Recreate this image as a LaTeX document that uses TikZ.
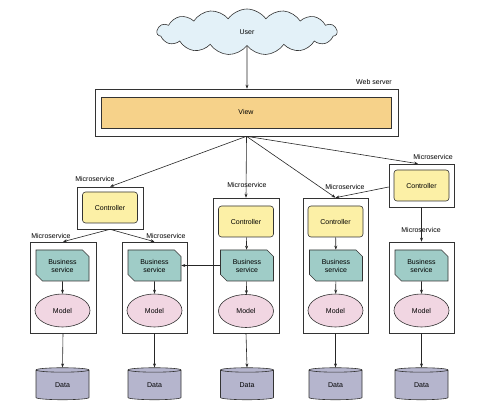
\documentclass[tikz,border=0pt]{standalone}
\usepackage{fontspec}
\setmainfont{Liberation Sans}
\usepackage{tikz}
\usetikzlibrary{arrows.meta}
\usetikzlibrary{shapes.geometric,shapes.misc,shapes.symbols}
\definecolor{cloudblue}{HTML}{E3F1F8}
\definecolor{vieworange}{HTML}{F6D28A}
\definecolor{ctrlyellow}{HTML}{FCF0A6}
\definecolor{busteal}{HTML}{9FCCC7}
\definecolor{modelpink}{HTML}{F1D6E2}
\definecolor{datagray}{HTML}{B5B5CD}
\tikzset{
	>={Stealth[length=4pt,width=3pt]},
	usercloud/.style={draw=black!80, fill=cloudblue, cloud, cloud puffs=15,
		cloud puff arc=110, aspect=4, minimum width=180pt, minimum height=46pt, inner sep=0pt},
	msbox/.style={draw=black!80, fill=white, inner sep=0pt},
	viewbox/.style={draw=black!80, fill=vieworange, minimum width=290pt, minimum height=31pt},
	ctrl/.style={draw=black!80, fill=ctrlyellow, rounded corners=3pt,
		minimum width=55pt, minimum height=31pt, inner sep=0pt},
	busi/.style={draw=black!80, fill=busteal, chamfered rectangle,
		chamfered rectangle corners={north east,south west}, chamfered rectangle xsep=3pt,
		minimum width=53pt, minimum height=31pt, inner sep=0pt, align=center},
	model/.style={draw=black!80, fill=modelpink, ellipse, minimum width=55pt,
		minimum height=33pt, inner sep=0pt},
	data/.style={draw=black!80, fill=datagray, cylinder, shape border rotate=90,
		aspect=0.3, minimum width=53pt, minimum height=32pt, inner sep=0pt},
	conn/.style={draw=black!85, ->},
}

\begin{document}
\begin{tikzpicture}[x=1pt, y=-1pt, line width=0.6pt, font=\fontsize{7pt}{8pt}\selectfont]
\useasboundingbox (0,0) rectangle (500,411);
	% user and web server
	\node[usercloud] (user) at (247,32) {User};
	\node[msbox, minimum width=303pt, minimum height=47pt] (ws) at (246.5,112.5) {};
	\node[viewbox] (view) at (246,112.5) {View};
	\node (wslab) at (374,82) {Web server};
	% microservice boxes
	\node[msbox, minimum width=66pt, minimum height=42pt] (msTL) at (110,208) {};
	\node[msbox, minimum width=65pt, minimum height=43pt] (msTR) at (421.5,185.5) {};
	\node[msbox, minimum width=66pt, minimum height=91pt] (msA) at (63,287.5) {};
	\node[msbox, minimum width=65pt, minimum height=91pt] (msB) at (154.5,287.5) {};
	\node[msbox, minimum width=66pt, minimum height=135pt] (msC) at (246,265.5) {};
	\node[msbox, minimum width=65pt, minimum height=135pt] (msD) at (335.5,265.5) {};
	\node[msbox, minimum width=65pt, minimum height=91pt] (msE) at (421.5,287.5) {};
	\node (labTL) at (95,179) {Microservice};
	\node (labTR) at (433,157) {Microservice};
	\node (labA) at (51,236) {Microservice};
	\node (labB) at (166,236) {Microservice};
	\node (labC) at (247,185) {Microservice};
	\node (labD) at (345,187) {Microservice};
	\node (labE) at (421,230) {Microservice};
	% controllers
	\node[ctrl] (ctrlTL) at (110,207.5) {Controller};
	\node[ctrl] (ctrlTR) at (421.5,185.5) {Controller};
	\node[ctrl] (ctrlC) at (246,221.5) {Controller};
	\node[ctrl] (ctrlD) at (335.5,221.5) {Controller};
	% business services
	\node[busi] (busA) at (62.5,265.5) {Business\\service};
	\node[busi] (busB) at (154.5,265.5) {Business\\service};
	\node[busi] (busC) at (247,265.5) {Business\\service};
	\node[busi] (busD) at (336,265.5) {Business\\service};
	\node[busi] (busE) at (421.5,265.5) {Business\\service};
	% models
	\node[model] (modelA) at (62.5,310.5) {Model};
	\node[model] (modelB) at (154.5,310.5) {Model};
	\node[model] (modelC) at (246,311) {Model};
	\node[model] (modelD) at (335.5,310.5) {Model};
	\node[model] (modelE) at (421.5,310.5) {Model};
	% data stores
	\node[data] (dataA) at (62.5,385) {Data};
	\node[data] (dataB) at (154.5,385) {Data};
	\node[data] (dataC) at (247,385) {Data};
	\node[data] (dataD) at (335.5,385) {Data};
	\node[data] (dataE) at (421.5,385) {Data};
	% connectors
	\draw[conn] (user) -- (ws.north -| user);
	\draw[conn] (ws.south) -- (msTL.north);
	\draw[conn] (ws.south) -- (msC.north);
	\draw[conn] (ws.south) -- (msD.north);
	\draw[conn] (ws.south) -- ([xshift=-3.5pt]msTR.north);
	\draw[conn] ([yshift=-1.5pt]msTR.west) -- (msD.north);
	\draw[conn] (msTR.south) -- (msE.north);
	\draw[conn] (msTL.south) -- (msA.north);
	\draw[conn] (msTL.south) -- (msB.north);
	\draw[conn] (ctrlC) -- (busC);
	\draw[conn] (ctrlD) -- (busD);
	\draw[conn] (busC.west) -- (busB.east);
	\draw[conn] (busA) -- (modelA);
	\draw[conn] (busB) -- (modelB);
	\draw[conn] (busC) -- (modelC);
	\draw[conn] (busD) -- (modelD);
	\draw[conn] (busE) -- (modelE);
	\draw[conn] (msA.south) -- (dataA.north);
	\draw[conn] (msB.south) -- (dataB.north);
	\draw[conn] (msC.south) -- (dataC.north);
	\draw[conn] (msD.south) -- (dataD.north);
	\draw[conn] (msE.south) -- (dataE.north);
\end{tikzpicture}
\end{document}
